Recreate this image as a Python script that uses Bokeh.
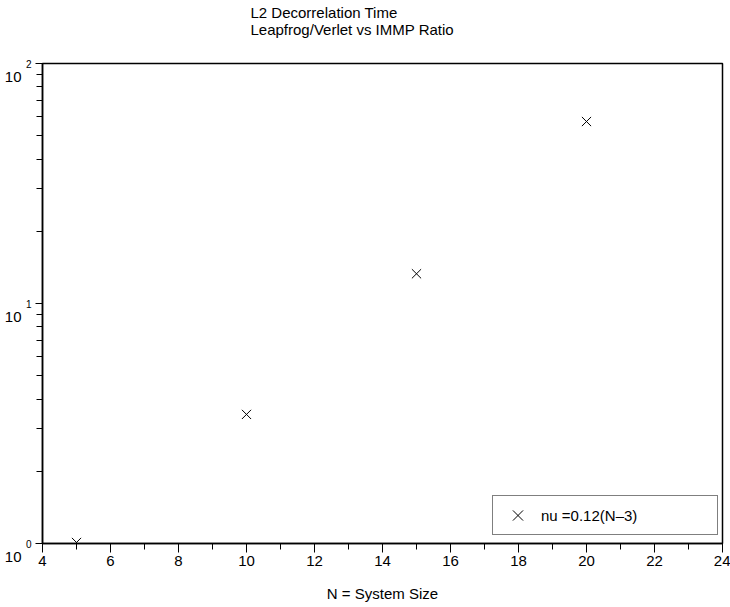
from bokeh.embed import file_html
from bokeh.resources import INLINE
from bokeh.plotting import figure
from bokeh.models import (Range1d, LogTicker, SingleIntervalTicker, LogAxis,
                          Legend, LegendItem, CustomJSTickFormatter, Title)

# data
system_size = [5, 10, 15, 20]
ratio = [1.01, 3.45, 13.3, 57.3]

title_text = "L2 Decorrelation Time\nLeapfrog/Verlet vs IMMP Ratio"
x_label = "N = System Size"
legend_label = "nu =0.12(N\u20133)"

FONT = "Liberation Sans"

p = figure(frame_width=680, frame_height=480, output_backend="svg",
           toolbar_location=None, y_axis_type="log",
           x_range=Range1d(4, 24), y_range=Range1d(1, 100),
           min_border_left=42, min_border_top=63, min_border_right=8,
           min_border_bottom=64)
p.grid.grid_line_color = None
p.outline_line_color = "black"
p.outline_line_width = 1.5
p.background_fill_color = "white"
p.border_fill_color = "white"

# title: two left-aligned lines near the top, lifted by an empty spacer
p.title.text = title_text
p.title.align = "left"
p.title.offset = 208
p.title.standoff = 0
p.title.text_font = FONT
p.title.text_font_size = "15px"
p.title.text_font_style = "normal"
p.title.text_color = "black"
p.title.text_line_height = 1.05
p.add_layout(Title(text=" ", standoff=6, text_font=FONT,
                   text_font_size="15px"), "above")

# x axis
p.xaxis.ticker = SingleIntervalTicker(interval=2, num_minor_ticks=2)
p.xaxis.axis_line_width = 1.5
p.xaxis.axis_line_color = "black"
p.xaxis.major_tick_in = 0
p.xaxis.major_tick_out = 9
p.xaxis.minor_tick_in = 0
p.xaxis.minor_tick_out = 6
p.xaxis.major_tick_line_color = "black"
p.xaxis.minor_tick_line_color = "black"
p.xaxis.major_label_text_font = FONT
p.xaxis.major_label_text_font_size = "15px"
p.xaxis.major_label_text_color = "black"
p.xaxis.major_label_standoff = 3
p.xaxis.axis_label = x_label
p.xaxis.axis_label_standoff = 16
p.xaxis.axis_label_text_font = FONT
p.xaxis.axis_label_text_font_size = "15px"
p.xaxis.axis_label_text_font_style = "normal"
p.xaxis.axis_label_text_color = "black"

# y axis, inner: ticks and the decade exponents
p.yaxis.ticker = LogTicker(num_minor_ticks=10, desired_num_ticks=3)
p.yaxis.formatter = CustomJSTickFormatter(
    code="return Math.round(Math.log10(tick)).toString()")
p.yaxis.axis_line_width = 1.5
p.yaxis.axis_line_color = "black"
p.yaxis.major_tick_in = 0
p.yaxis.major_tick_out = 7
p.yaxis.minor_tick_in = 0
p.yaxis.minor_tick_out = 6
p.yaxis.major_tick_line_color = "black"
p.yaxis.minor_tick_line_color = "black"
p.yaxis.major_label_standoff = 4
p.yaxis.major_label_text_font = FONT
p.yaxis.major_label_text_font_size = "10px"
p.yaxis.major_label_text_color = "black"

# y axis, outer: the "10" base, set a little below each decade
base_axis = LogAxis(ticker=LogTicker(num_minor_ticks=0, desired_num_ticks=3),
                    formatter=CustomJSTickFormatter(code="return '\\n10'"))
base_axis.axis_line_color = None
base_axis.major_tick_line_color = None
base_axis.minor_tick_line_color = None
base_axis.major_tick_out = 0
base_axis.minor_tick_out = 0
base_axis.major_tick_in = 0
base_axis.minor_tick_in = 0
base_axis.major_label_standoff = 1
base_axis.major_label_text_font = FONT
base_axis.major_label_text_font_size = "15px"
base_axis.major_label_text_color = "black"
base_axis.major_label_text_line_height = 1.5
p.add_layout(base_axis, "left")

r = p.scatter(system_size, ratio, marker="x", size=13, line_color="black",
              line_width=1)

legend = Legend(items=[LegendItem(label=legend_label, renderers=[r])],
                location=(450, 8), margin=0, padding=1, spacing=0,
                glyph_width=47, glyph_height=36, label_standoff=0,
                label_width=175, label_height=36,
                label_text_font=FONT, label_text_font_size="15px",
                label_text_color="black", border_line_color="black",
                border_line_width=1, background_fill_alpha=1.0)
p.add_layout(legend, "center")

open("out.html", "w").write(file_html(p, INLINE))
